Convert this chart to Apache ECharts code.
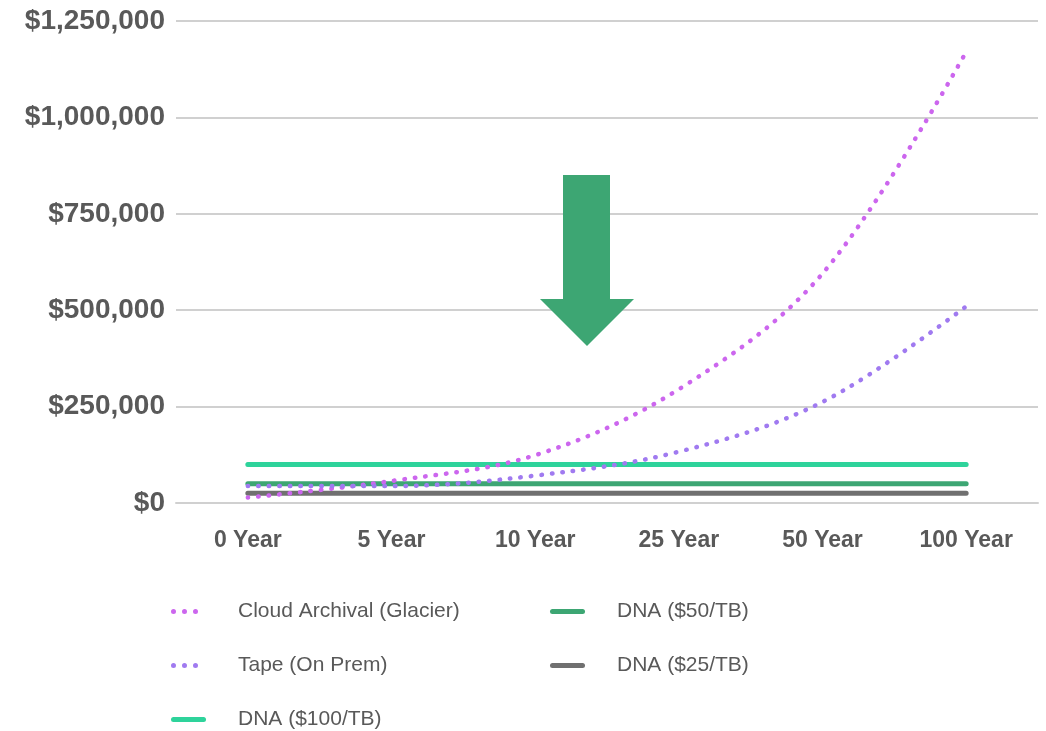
<!DOCTYPE html>
<html>
<head>
<meta charset="utf-8">
<script src="https://cdn.jsdelivr.net/npm/echarts@6/dist/echarts.min.js"></script>
<style>
html,body{margin:0;padding:0;background:#fff;}
#chart{width:1046px;height:731px;}
</style>
</head>
<body>
<div id="chart"></div>
<script>
const categories = ['0 Year', '5 Year', '10 Year', '25 Year', '50 Year', '100 Year'];
const cloudGlacier = [14000, 57000, 124000, 295000, 595000, 1170000];
const tapeOnPrem = [44000, 44000, 71000, 133000, 262000, 510000];
const dna100 = [100000, 100000, 100000, 100000, 100000, 100000];
const dna50 = [50000, 50000, 50000, 50000, 50000, 50000];
const dna25 = [25000, 25000, 25000, 25000, 25000, 25000];
const yTicks = { min: 0, max: 1250000, interval: 250000 };

const textColor = '#595959';
const gridColor = '#D0D0D0';
const font = 'Liberation Sans, Arial, sans-serif';

function money(v) {
  return '$' + String(Math.round(v)).replace(/\B(?=(\d{3})+(?!\d))/g, ',');
}

const chart = echarts.init(document.getElementById('chart'), null, { renderer: 'canvas' });

function dotted(name, data, color) {
  return {
    name, type: 'line', data, smooth: 0.35, symbol: 'none', z: 5,
    lineStyle: { color, width: 4.5, type: [0.5, 10], cap: 'round' },
    itemStyle: { color }
  };
}
function solid(name, data, color) {
  return {
    name, type: 'line', data, symbol: 'none', z: 3,
    lineStyle: { color, width: 5, cap: 'round' },
    itemStyle: { color }
  };
}

const dotsIcon = 'path://M0,2.5A2.5,2.5 0 1,1 5,2.5A2.5,2.5 0 1,1 0,2.5Z M11,2.5A2.5,2.5 0 1,1 16,2.5A2.5,2.5 0 1,1 11,2.5Z M22,2.5A2.5,2.5 0 1,1 27,2.5A2.5,2.5 0 1,1 22,2.5Z';
const barIcon = 'path://M2.5,0L32.5,0A2.5,2.5 0 0,1 32.5,5L2.5,5A2.5,2.5 0 0,1 2.5,0Z';

function legendItem(name, icon, left, top, padLeft) {
  return {
    data: [{ name, icon }],
    left, top, itemWidth: icon === dotsIcon ? 27 : 35, itemHeight: 5,
    selectedMode: false,
    textStyle: { color: textColor, fontSize: 21, fontFamily: font, padding: [0, 0, 0, padLeft] }
  };
}

chart.setOption({
  backgroundColor: '#ffffff',
  animation: false,
  textStyle: { fontFamily: font },
  grid: { left: 176, right: 8, top: 21, bottom: 228, containLabel: false },
  legend: [
    legendItem('Cloud Archival (Glacier)', dotsIcon, 166, 596, 35),
    legendItem('Tape (On Prem)', dotsIcon, 166, 650, 35),
    legendItem('DNA ($100/TB)', barIcon, 166, 704, 27),
    legendItem('DNA ($50/TB)', barIcon, 545, 596, 27),
    legendItem('DNA ($25/TB)', barIcon, 545, 650, 27)
  ],
  xAxis: {
    type: 'category', data: categories, boundaryGap: true,
    axisLine: { lineStyle: { color: gridColor, width: 2 } },
    axisTick: { show: false },
    axisLabel: { color: textColor, fontSize: 23, fontWeight: 'bold', margin: 26 }
  },
  yAxis: {
    type: 'value', min: yTicks.min, max: yTicks.max, interval: yTicks.interval,
    axisLine: { show: false }, axisTick: { show: false },
    splitLine: { lineStyle: { color: gridColor, width: 2 } },
    axisLabel: { color: textColor, fontSize: 28, fontWeight: 'bold', margin: 11, formatter: money }
  },
  graphic: [{
    type: 'polygon', z: 10,
    shape: { points: [[563, 175], [610, 175], [610, 299], [634, 299], [587, 346], [540, 299], [563, 299]] },
    style: { fill: '#3DA673' }
  }],
  series: [
    solid('DNA ($100/TB)', dna100, '#2ED39B'),
    solid('DNA ($50/TB)', dna50, '#3DA673'),
    solid('DNA ($25/TB)', dna25, '#707070'),
    dotted('Cloud Archival (Glacier)', cloudGlacier, '#CC66EE'),
    dotted('Tape (On Prem)', tapeOnPrem, '#A07AF0')
  ]
});
</script>
</body>
</html>
